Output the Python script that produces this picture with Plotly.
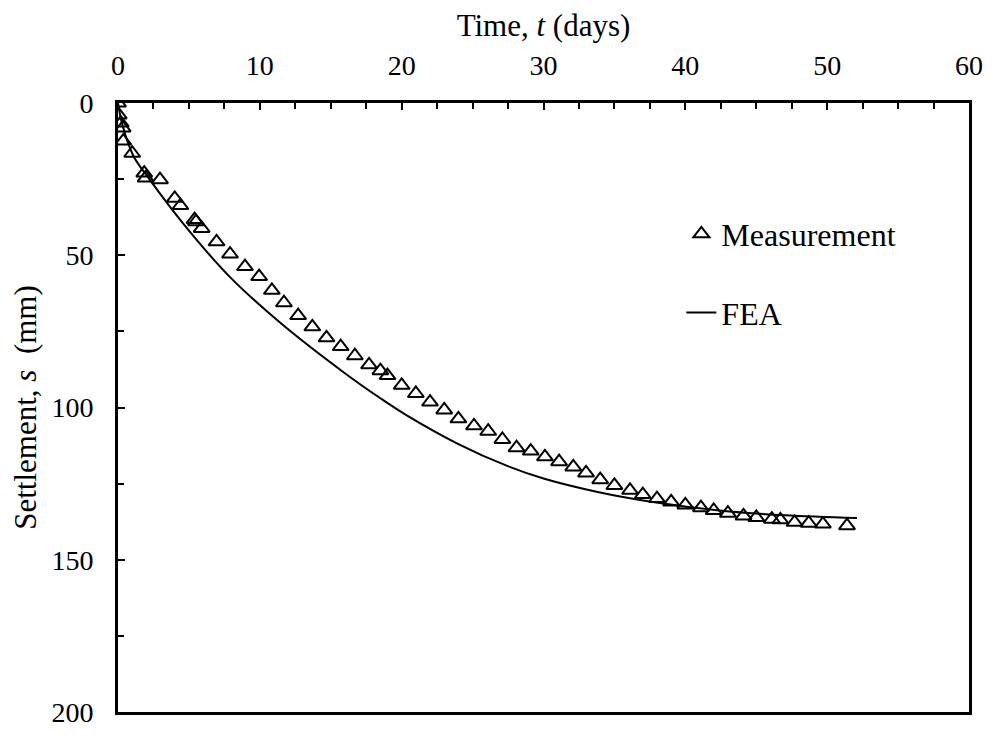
import plotly.graph_objects as go

# Measurement data (time in days, settlement in mm)
meas_t = [0, 0.05, 0.2, 0.33, 0.37, 1.0, 1.85, 1.95, 2.96, 4.0, 4.4, 5.4, 5.5, 5.9,
          6.95, 7.9, 8.95, 9.95, 10.85, 11.7, 12.7, 13.7, 14.7, 15.7, 16.7, 17.7,
          18.5, 19.0, 20.0, 21.0, 22.0, 23.0, 24.0, 25.1, 26.1, 27.1, 28.1, 29.1,
          30.1, 31.1, 32.1, 33.0, 34.0, 35.0, 36.1, 37.0, 38.0, 39.0, 40.0, 41.1,
          42.0, 43.0, 44.1, 45.0, 46.1, 46.7, 47.7, 48.7, 49.7, 51.4]
meas_s = [0, 3.9, 6.6, 8.2, 12.5, 16.5, 23, 24.6, 25.2, 31.3, 33.7, 38.3, 39, 41.2,
          45.6, 49.6, 53.7, 57.0, 61.5, 65.6, 69.8, 73.5, 77.1, 80, 83, 86,
          87.9, 89.5, 92.7, 95.4, 98.2, 100.8, 103.7, 106, 107.8, 110.5, 113.2, 114.3,
          116.2, 117.8, 119.5, 121.5, 123.7, 125.6, 127.2, 128.6, 129.9, 131, 132, 132.9,
          133.8, 134.7, 135.6, 136.1, 136.7, 136.9, 137.7, 138, 138.3, 138.8]

# FEA curve
fea_t = [0, 0.3, 1.08, 2.2, 4.67, 7.9, 11.4, 15.9, 18.45, 20.3, 24, 27.4, 30,
         33.9, 37.7, 42.4, 47, 52.1]
fea_s = [0, 7, 17.3, 24.9, 40.0, 57.2, 72, 88.4, 96.8, 102.4, 112.0, 119.1, 123.3,
         127.8, 131.0, 133.8, 135.4, 136.3]

x_ticks = [0, 10, 20, 30, 40, 50, 60]
y_ticks = [0, 50, 100, 150, 200]

FONT = "Liberation Serif, Times New Roman, serif"

fig = go.Figure()
fig.add_trace(go.Scatter(
    x=meas_t, y=meas_s, mode="markers", name="Measurement",
    marker=dict(symbol="triangle-up-open", size=14, color="black",
                line=dict(width=2, color="black")),
    legendgroup="a"))
fig.add_trace(go.Scatter(
    x=fea_t, y=fea_s, mode="lines", name="FEA",
    line=dict(color="black", width=2, shape="spline"),
    legendgroup="b"))

fig.update_layout(
    width=995, height=740,
    margin=dict(l=118, r=24, t=103, b=18),
    paper_bgcolor="white", plot_bgcolor="white",
    font=dict(family=FONT, size=28, color="black"),
    showlegend=True,
    legend=dict(x=0.662, y=0.83, xanchor="left", yanchor="top",
                bgcolor="rgba(0,0,0,0)", font=dict(size=32),
                tracegroupgap=34, traceorder="grouped"),
    xaxis=dict(
        side="top", range=[0, 60], tickvals=x_ticks, ticktext=[str(v) for v in x_ticks],
        ticks="inside", ticklen=7, tickwidth=2, tickcolor="black",
        ticklabelstandoff=14,
        minor=dict(dtick=2.5, ticks="inside", ticklen=6, tickwidth=2, tickcolor="black"),
        showline=True, linecolor="black", linewidth=3, mirror=True,
        showgrid=False, zeroline=False,
        title=dict(text="Time, <i>t</i> (days)", font=dict(size=31), standoff=4),
    ),
    yaxis=dict(
        range=[200, 0], tickvals=y_ticks, ticktext=[str(v) for v in y_ticks],
        ticks="inside", ticklen=7, tickwidth=2, tickcolor="black",
        ticklabelstandoff=16,
        minor=dict(dtick=25, ticks="inside", ticklen=6, tickwidth=2, tickcolor="black"),
        showline=True, linecolor="black", linewidth=3, mirror=True,
        showgrid=False, zeroline=False,
        title=dict(text="Settlement, <i>s</i>  (mm)", font=dict(size=31), standoff=6),
    ),
)

fig.write_html("out.html")
